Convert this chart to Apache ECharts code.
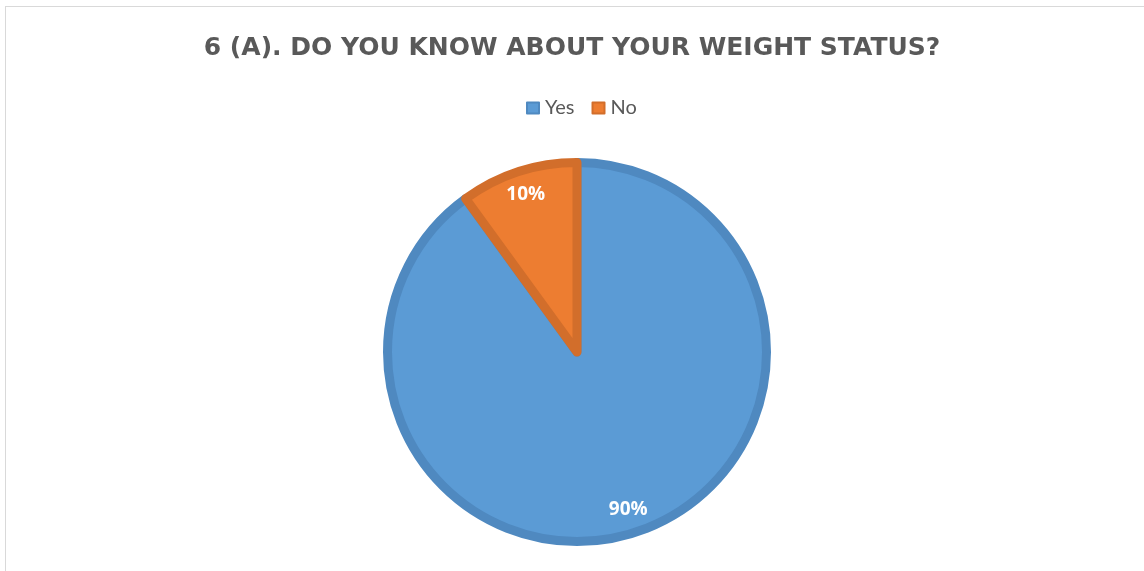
<!DOCTYPE html>
<html>
<head>
<meta charset="utf-8">
<script src="https://cdn.jsdelivr.net/npm/echarts@6/dist/echarts.min.js"></script>
<style>
html,body{margin:0;padding:0;background:#fff;overflow:hidden;}
#frame{position:absolute;left:5px;top:6px;width:2000px;height:2000px;border:1px solid #d9d9d9;}
#chart{position:absolute;left:0;top:0;width:1144px;height:571px;}
</style>
</head>
<body>
<div id="frame"></div>
<div id="chart"></div>
<script>
const titleText = '6 (A). DO YOU KNOW ABOUT YOUR WEIGHT STATUS?';
const categories = ['Yes', 'No'];
const values = [90, 10];
const fillColors = ['#5B9BD5', '#ED7D31'];
const borderColors = ['#4F89C0', '#D26E2B'];

const chart = echarts.init(document.getElementById('chart'), null, {renderer: 'canvas'});
const pieData = categories.map((c, i) => ({
  name: c, value: values[i],
  itemStyle: {color: fillColors[i], borderColor: borderColors[i]}
}));
const labelData = categories.map((c, i) => ({
  name: c, value: values[i],
  itemStyle: {color: 'rgba(0,0,0,0)', borderWidth: 0}
}));
chart.setOption({
  animation: false,
  title: {
    text: titleText, left: 'center', top: 31,
    textStyle: {fontFamily: 'DejaVu Sans', fontWeight: 'bold', fontSize: 25, color: '#595959'}
  },
  legend: {
    data: categories, top: 98, left: 526, padding: 0,
    itemWidth: 12, itemHeight: 11, itemGap: 17,
    icon: 'rect',
    textStyle: {fontFamily: 'Lato', fontSize: 20, color: '#595959', padding: [0,0,0,1]}
  },
  series: [
    {
      type: 'pie', center: [577, 352], radius: [0, 189.5],
      startAngle: 90, clockwise: true, silent: true,
      itemStyle: {borderWidth: 9},
      label: {show: false}, labelLine: {show: false},
      data: pieData
    },
    {
      type: 'pie', center: [577, 352], radius: [134, 192],
      startAngle: 90, clockwise: true, silent: true,
      label: {show: true, position: 'inside', formatter: '{c}%', color: '#fff',
        fontFamily: 'Open Sans', fontWeight: 'bold', fontSize: 19},
      labelLine: {show: false},
      data: labelData
    }
  ]
});
</script>
</body>
</html>
